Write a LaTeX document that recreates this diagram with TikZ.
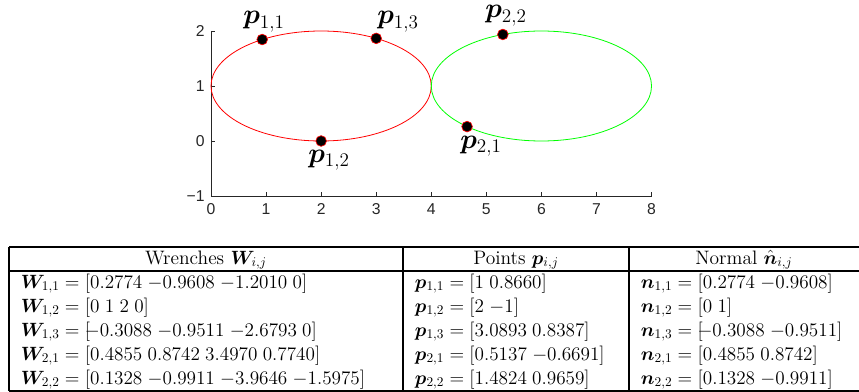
\documentclass[tikz,border=0pt]{standalone}
\usepackage{amsmath,bm}
\usepackage{fontspec}
\newfontfamily\tickfont{Liberation Sans}
\begin{document}
\begin{tikzpicture}[x=0.75pt,y=-0.75pt,
  axis/.style={draw=black!85, line width=0.6pt},
  tick/.style={font=\tickfont\fontsize{11.8}{13}\selectfont, text=black!85, inner sep=0pt},
  dot/.style={circle, fill=black, draw=red, line width=0.5pt, minimum size=8pt, inner sep=0pt},
  plab/.style={font=\fontsize{19.5}{22}\selectfont, inner sep=0pt, anchor=base west},
  cell/.style={font=\fontsize{14.6}{17.5}\selectfont, inner sep=0pt, anchor=base west},
  head/.style={font=\fontsize{14.6}{17.5}\selectfont, inner sep=0pt, anchor=base},
  rule/.style={draw=black, line width=0.8pt}]
\useasboundingbox (0,0) rectangle (859,392);
% ---------------- plot ----------------
\begin{scope}[shift={(211,141)}, x=41.3pt, y=41.25pt]
  \draw[axis] (0,2) -- (0,-1) -- (8,-1);
  \foreach \i in {0,...,8} {
    \draw[axis] (\i,-1) -- ++(0,0.073);
    \node[tick, anchor=north] (xt\i) at (\i,-1.13) {\i};
  }
  \foreach \j/\t in {-1/\char"2212 1,0/0,1/1,2/2} {
    \draw[axis] (0,\j) -- ++(0.073,0);
    \node[tick, anchor=east] (yt\j) at (-0.11,\j) {\t};
  }
  \draw[red, line width=0.6pt] (2,1) ellipse [x radius=2, y radius=1];
  \draw[green, line width=0.6pt] (6,1) ellipse [x radius=2, y radius=1];
  \node[dot] (p11) at (0.93,1.845) {};
  \node[dot] (p12) at (2,0) {};
  \node[dot] (p13) at (3,1.866) {};
  \node[dot] (p21) at (4.65,0.262) {};
  \node[dot] (p22) at (5.30,1.937) {};
\end{scope}
\node[plab] (l11) at (243,24) {$\bm p_{1,1}$};
\node[plab] (l13) at (377,24) {$\bm p_{1,3}$};
\node[plab] (l12) at (308,162) {$\bm p_{1,2}$};
\node[plab] (l21) at (460,148) {$\bm p_{2,1}$};
\node[plab] (l22) at (485,18) {$\bm p_{2,2}$};
% ---------------- table ----------------
\draw[rule] (9,247) -- (859,247);
\draw[rule] (9,271) -- (859,271);
\draw[rule] (9,391) -- (859,391);
\draw[rule] (9,247) -- (9,391);
\draw[rule] (403,247) -- (403,391);
\draw[rule] (629,247) -- (629,391);
\node[head] (h1) at (206,264) {Wrenches $\bm W_{i,j}$};
\node[head] (h2) at (516,264) {Points $\bm p_{i,j}$};
\node[head] (h3) at (744,264) {Normal $\hat{\bm n}_{i,j}$};
% column 1
\node[cell] (w11) at (20.7,288) {$\bm W_{1,1} = [0.2774\;{-0.9608}\;{-1.2010}\;0]$};
\node[cell] (w12) at (20.7,312) {$\bm W_{1,2} = [0\;1\;2\;0]$};
\node[cell] (w13) at (20.7,336) {$\bm W_{1,3} = [\mkern-5mu{-}0.3088\;{-0.9511}\;{-2.6793}\;0]$};
\node[cell] (w21) at (20.7,360) {$\bm W_{2,1} = [0.4855\;0.8742\;3.4970\;0.7740]$};
\node[cell] (w22) at (20.7,384) {$\bm W_{2,2} = [0.1328\;{-0.9911}\;{-3.9646}\;{-1.5975}]$};
% column 2
\node[cell] (q11) at (414.7,288) {$\bm p_{1,1} = [1\;0.8660]$};
\node[cell] (q12) at (414.7,312) {$\bm p_{1,2} = [2\;{-1}]$};
\node[cell] (q13) at (414.7,336) {$\bm p_{1,3} = [3.0893\;0.8387]$};
\node[cell] (q21) at (414.7,360) {$\bm p_{2,1} = [0.5137\;{-0.6691}]$};
\node[cell] (q22) at (414.7,384) {$\bm p_{2,2} = [1.4824\;0.9659]$};
% column 3
\node[cell] (n11) at (640.7,288) {$\bm n_{1,1} = [0.2774\;{-0.9608}]$};
\node[cell] (n12) at (640.7,312) {$\bm n_{1,2} = [0\;1]$};
\node[cell] (n13) at (640.7,336) {$\bm n_{1,3} = [\mkern-5mu{-}0.3088\;{-0.9511}]$};
\node[cell] (n21) at (640.7,360) {$\bm n_{2,1} = [0.4855\;0.8742]$};
\node[cell] (n22) at (640.7,384) {$\bm n_{2,2} = [0.1328\;{-0.9911}]$};
\end{tikzpicture}
\end{document}
